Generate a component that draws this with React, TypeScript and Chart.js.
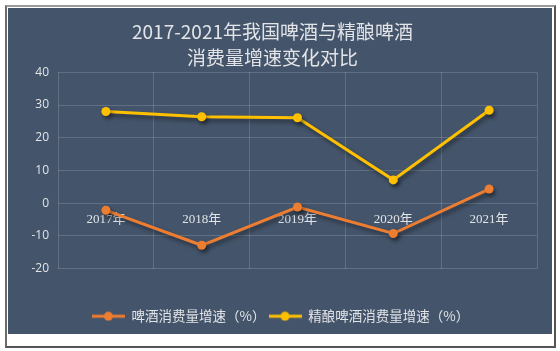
import React, { useEffect, useRef } from "react";
import { Chart, registerables } from "chart.js";

Chart.register(...registerables);

const categories = ["2017年", "2018年", "2019年", "2020年", "2021年"];
const beerGrowth = [-2.2, -12.9, -1.2, -9.3, 4.3];
const craftBeerGrowth = [28.0, 26.4, 26.1, 7.1, 28.4];
const seriesNames = ["啤酒消费量增速（%）", "精酿啤酒消费量增速（%）"];
const titleLines = ["2017-2021年我国啤酒与精酿啤酒", "消费量增速变化对比"];

const ORANGE = "#ED7D31";
const YELLOW = "#FFC000";
const PANEL = "#44546A";
const TEXT = "#E2E4E8";

function legendIcon(color: string): HTMLCanvasElement {
  const c = document.createElement("canvas");
  c.width = 33;
  c.height = 10;
  const ctx = c.getContext("2d")!;
  ctx.strokeStyle = color;
  ctx.lineWidth = 3;
  ctx.beginPath();
  ctx.moveTo(0, 5);
  ctx.lineTo(33, 5);
  ctx.stroke();
  ctx.fillStyle = color;
  ctx.beginPath();
  ctx.arc(16.5, 5, 4.5, 0, Math.PI * 2);
  ctx.fill();
  return c;
}

export default function App() {
  const ref = useRef<HTMLCanvasElement | null>(null);

  useEffect(() => {
    if (!ref.current) return;
    const icons = [legendIcon(ORANGE), legendIcon(YELLOW)];

    const shadowPlugin = {
      id: "shadowPlugin",
      beforeDatasetDraw(chart: any) {
        const ctx = chart.ctx;
        ctx.save();
        ctx.shadowColor = "rgba(0,0,0,0.45)";
        ctx.shadowBlur = 4;
        ctx.shadowOffsetX = 2;
        ctx.shadowOffsetY = 3;
      },
      afterDatasetDraw(chart: any) {
        chart.ctx.restore();
      },
    };

    const legendShift = {
      id: "legendShift",
      afterLayout(chart: any) {
        if (chart.legend) {
          chart.legend.left += 8;
          chart.legend.right += 8;
        }
      },
    };

    const xLabelPlugin = {
      id: "xLabelPlugin",
      beforeDatasetsDraw(chart: any) {
        const ctx = chart.ctx;
        const xs = chart.scales.x;
        const ys = chart.scales.y;
        const y0 = ys.getPixelForValue(0) + 16;
        ctx.save();
        ctx.fillStyle = TEXT;
        ctx.font = '13px "Liberation Serif", "Noto Sans CJK SC", serif';
        ctx.textAlign = "center";
        ctx.textBaseline = "middle";
        categories.forEach((c, i) => {
          ctx.fillText(c, xs.getPixelForValue(i), y0);
        });
        ctx.restore();
      },
    };

    const chart = new Chart(ref.current, {
      type: "line",
      data: {
        labels: categories,
        datasets: [
          {
            label: seriesNames[0],
            data: beerGrowth,
            borderColor: ORANGE,
            backgroundColor: ORANGE,
            borderWidth: 3,
            pointRadius: 4.5,
            pointBorderWidth: 0,
            pointBackgroundColor: ORANGE,
            pointBorderColor: ORANGE,
            tension: 0,
          } as any,
          {
            label: seriesNames[1],
            data: craftBeerGrowth,
            borderColor: YELLOW,
            backgroundColor: YELLOW,
            borderWidth: 3,
            pointRadius: 4.5,
            pointBorderWidth: 0,
            pointBackgroundColor: YELLOW,
            pointBorderColor: YELLOW,
            tension: 0,
          } as any,
        ],
      },
      options: {
        responsive: false,
        animation: false,
        maintainAspectRatio: false,
        layout: { padding: { left: 0, right: 15, top: 0, bottom: 1 } },
        scales: {
          x: {
            type: "category",
            offset: true,
            grid: { offset: true, color: "rgba(255,255,255,0.16)", lineWidth: 1, drawTicks: false },
            border: { display: false },
            ticks: { display: false },
            afterFit(scale: any) {
              scale.height = 38;
            },
          },
          y: {
            min: -20,
            max: 40,
            ticks: {
              stepSize: 10,
              color: TEXT,
              padding: 9,
              font: { family: '"Open Sans", "Liberation Sans", sans-serif', size: 12 },
            },
            grid: { color: "rgba(255,255,255,0.16)", lineWidth: 1, drawTicks: false },
            border: { display: false },
            afterFit(scale: any) {
              scale.width = 50;
            },
          },
        },
        plugins: {
          title: {
            display: true,
            text: titleLines,
            color: TEXT,
            font: { family: '"Noto Sans CJK SC", sans-serif', size: 19, weight: "normal", lineHeight: 1.35 },
            padding: { top: 11, bottom: 2 },
          },
          legend: {
            position: "bottom",
            labels: {
              color: TEXT,
              usePointStyle: true,
              pointStyleWidth: 33,
              boxHeight: 10,
              font: { family: '"Noto Sans CJK SC", sans-serif', size: 13.5 },
              padding: 3,
              generateLabels(chart: any) {
                return chart.data.datasets.map((ds: any, i: number) => ({
                  text: ds.label,
                  fillStyle: ds.borderColor,
                  strokeStyle: ds.borderColor,
                  fontColor: TEXT,
                  pointStyle: icons[i],
                  datasetIndex: i,
                  hidden: false,
                  lineWidth: 0,
                }));
              },
            },
          },
          tooltip: { enabled: false },
        },
      },
      plugins: [shadowPlugin, xLabelPlugin, legendShift],
    } as any);

    return () => chart.destroy();
  }, []);

  return (
    <div style={{ position: "fixed", left: 0, top: 0, width: 560, height: 351, background: "#ffffff" }}>
      <div
        style={{
          position: "absolute",
          left: 5,
          top: 5,
          width: 547,
          height: 339,
          borderLeft: "2px solid #6b6b6b",
          borderTop: "2px solid #9a9a9a",
          borderRight: "2px solid #555555",
          borderBottom: "2px solid #555555",
        }}
      />
      <div style={{ position: "absolute", left: 8, top: 8, width: 544, height: 326, background: PANEL }}>
        <canvas ref={ref} width={544} height={326} style={{ display: "block", width: 544, height: 326 }} />
      </div>
    </div>
  );
}
